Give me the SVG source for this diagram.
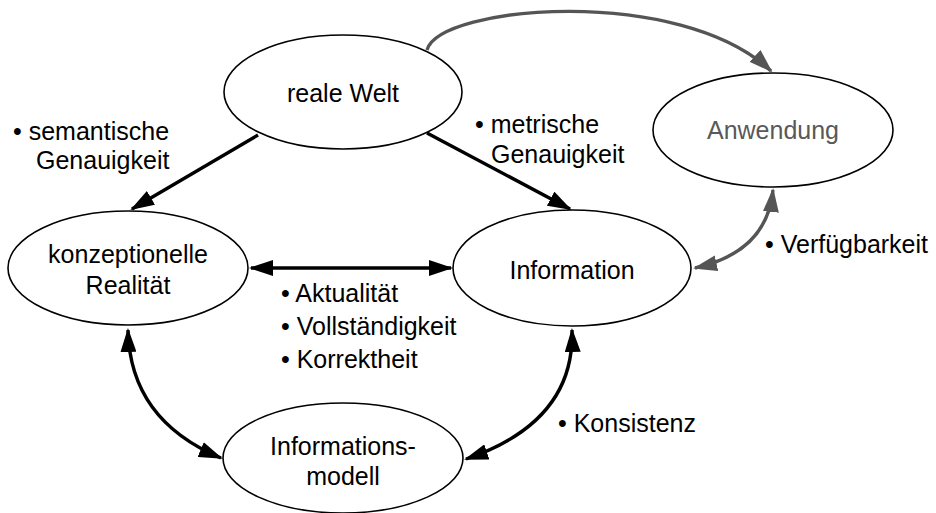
<svg xmlns="http://www.w3.org/2000/svg" width="936" height="513" viewBox="0 0 936 513">
  <style>
    text { font-family: "Liberation Sans", Arial, sans-serif; font-size: 25px; fill: #000; }
    .mid { text-anchor: middle; }
    .node { fill: #fff; stroke: #000; stroke-width: 1.6; }
    .conn { fill: none; stroke: #000; stroke-width: 3.4; }
    .conn-gray { fill: none; stroke: #555; stroke-width: 3.4; }
    .gray { fill: #595959; }
  </style>
  <defs>
    <marker id="arrow" markerUnits="userSpaceOnUse" markerWidth="25" markerHeight="16" refX="22" refY="8" orient="auto-start-reverse">
      <path d="M0,0 L24,8 L0,16 z" fill="#000"/>
    </marker>
    <marker id="arrow-gray" markerUnits="userSpaceOnUse" markerWidth="25" markerHeight="16" refX="22" refY="8" orient="auto-start-reverse">
      <path d="M0,0 L24,8 L0,16 z" fill="#555"/>
    </marker>
  </defs>

  <!-- connectors -->
  <g id="connectors">
    <path class="conn-gray" d="M427,50 C440,5 680,-15 771,71" marker-end="url(#arrow-gray)"/>
    <path class="conn" d="M258,135 L132,209" marker-end="url(#arrow)"/>
    <path class="conn" d="M427,133 L570,209" marker-end="url(#arrow)"/>
    <path class="conn" d="M251,268 L451,268" marker-start="url(#arrow)" marker-end="url(#arrow)"/>
    <path class="conn" d="M128,330 Q130,420 221,458" marker-start="url(#arrow)" marker-end="url(#arrow)"/>
    <path class="conn" d="M572,330 Q575,422 466,459" marker-start="url(#arrow)" marker-end="url(#arrow)"/>
    <path class="conn-gray" d="M773,190 Q767,252 695,268" marker-start="url(#arrow-gray)" marker-end="url(#arrow-gray)"/>
  </g>

  <!-- nodes -->
  <g id="reale-welt">
    <ellipse class="node" cx="343" cy="92" rx="119" ry="57"/>
    <text class="mid" x="343" y="102">reale Welt</text>
  </g>
  <g id="anwendung">
    <ellipse class="node" cx="773" cy="130" rx="120" ry="57"/>
    <text class="mid gray" x="773" y="139">Anwendung</text>
  </g>
  <g id="konzeptionelle-realitaet">
    <ellipse class="node" cx="128" cy="268" rx="120" ry="57"/>
    <text class="mid" x="128" y="263">konzeptionelle</text>
    <text class="mid" x="128" y="294">Realität</text>
  </g>
  <g id="information">
    <ellipse class="node" cx="572" cy="268" rx="119" ry="58"/>
    <text class="mid" x="572" y="279">Information</text>
  </g>
  <g id="informationsmodell">
    <ellipse class="node" cx="343" cy="458" rx="120" ry="55"/>
    <text class="mid" x="343" y="455">Informations-</text>
    <text class="mid" x="343" y="485">modell</text>
  </g>

  <!-- quality labels -->
  <g id="labels">
    <text x="13" y="140">• semantische</text>
    <text x="36" y="169">Genauigkeit</text>
    <text x="475" y="133">• metrische</text>
    <text x="491" y="163">Genauigkeit</text>
    <text x="281" y="302">• Aktualität</text>
    <text x="281" y="335">• Vollständigkeit</text>
    <text x="281" y="368">• Korrektheit</text>
    <text x="558" y="432">• Konsistenz</text>
    <text x="765" y="253">• Verfügbarkeit</text>
  </g>
</svg>
